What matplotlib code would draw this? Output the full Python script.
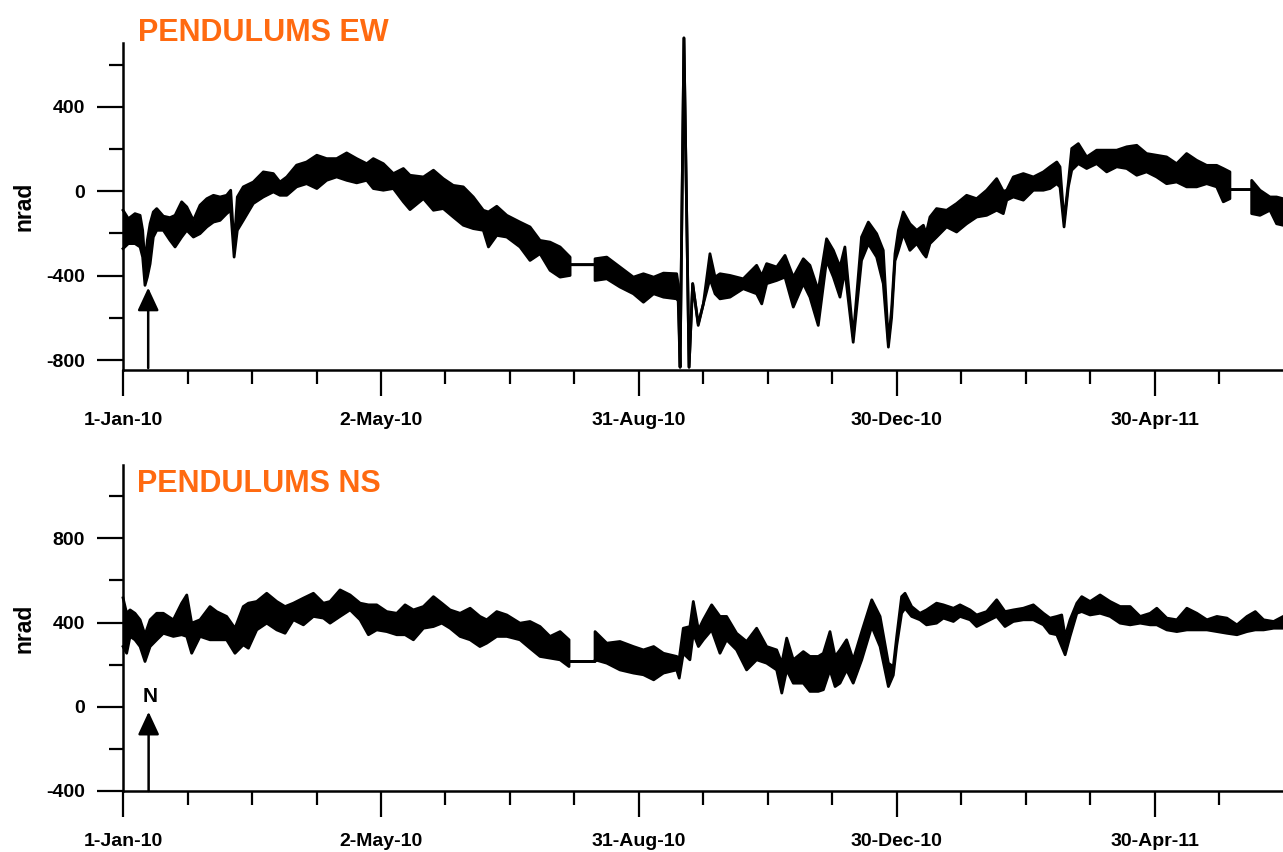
import matplotlib
matplotlib.use('Agg')
import matplotlib.pyplot as plt

plt.rcParams['font.family'] = ['Liberation Sans', 'DejaVu Sans']
plt.rcParams['font.weight'] = 'bold'
plt.rcParams['axes.unicode_minus'] = False

# days since 1-Jan-2010, lower / upper envelope of the record (nrad)
ew_day = [0.0, 2.5, 5.6, 8.0, 9.2, 10.3, 11.4, 12.7, 14.2, 15.8, 18.9, 22.0, 24.4, 27.5, 29.9,
          33.0, 36.1, 39.3, 42.4, 45.5, 48.6, 50.5, 52.1, 53.6, 56.4, 61.1, 65.8, 70.5, 73.6,
          76.8, 81.4, 86.1, 90.9, 95.5, 100.2, 104.9, 109.6, 114.3, 117.4, 122.1, 126.8, 131.5,
          134.6, 140.9, 145.6, 150.2, 154.9, 159.6, 164.3, 169.0, 171.4, 175.3, 180.0, 186.2,
          190.9, 195.6, 200.3, 205.0, 209.7, 209.7, 221.4, 221.4, 226.9, 233.1, 239.4, 244.1,
          248.9, 253.5, 259.7, 260.4, 261.3, 263.1, 265.5, 267.2, 269.8, 272.2, 275.3, 277.7,
          280.0, 284.7, 290.9, 297.2, 299.6, 301.9, 306.6, 310.5, 314.4, 319.1, 322.2, 326.1,
          330.0, 333.2, 336.3, 338.6, 342.5, 346.4, 349.6, 353.5, 356.6, 359.0, 360.5, 362.1,
          363.7, 366.0, 369.1, 372.3, 375.4, 376.7, 378.5, 381.6, 386.3, 391.0, 395.7, 400.4,
          405.1, 409.8, 412.9, 414.5, 417.6, 422.3, 427.0, 431.7, 434.8, 438.0, 439.5, 441.4,
          443.4, 445.0, 448.1, 452.0, 456.7, 461.4, 466.1, 470.8, 475.5, 480.1, 484.8, 489.5,
          494.2, 498.9, 503.6, 508.3, 513.0, 516.1, 519.2, 519.2, 529.4, 529.4, 533.3, 538.0,
          541.1, 544.1]
ew_lo = [-272, -248, -248, -264, -312, -446, -407, -344, -217, -185, -185, -232, -264, -217, -185,
         -217, -201, -169, -146, -138, -106, -90, -312, -185, -138, -58, -27, -3, -19,
         -19, 21, 36, 13, 52, 68, 52, 40, 52, 13, 5, 13, -50,
         -87, -35, -90, -82, -122, -161, -177, -185, -264, -209, -217, -264,
         -328, -296, -375, -407, -399, -348, -348, -423, -415, -454, -486, -526,
         -486, -502, -510, -520, -834, 727, -834, -438, -636, -534, -415, -486,
         -510, -502, -462, -486, -534, -438, -423, -407, -549, -438, -502, -636,
         -328, -407, -502, -375, -716, -328, -249, -312, -438, -739, -600, -330,
         -280, -201, -280, -248, -296, -312, -248, -217, -169, -193, -154, -122,
         -114, -90, -106, -42, -27, -42, 5, 5, 13, 36, 20, -169,
         20, 100, 131, 108, 131, 92, 116, 108, 76, 92, 68, 36,
         44, 21, 21, 36, 21, -50, -35, 8, 8, -106, -114, -90,
         -154, -161]
ew_hi = [-90, -130, -106, -114, -185, -344, -232, -153, -98, -82, -118, -125, -114, -50, -74,
         -138, -66, -35, -19, -27, -19, 5, -260, -27, 21, 44, 92, 84, 44,
         68, 124, 139, 171, 155, 155, 182, 155, 131, 155, 131, 84, 108,
         76, 68, 100, 60, 28, 21, -27, -90, -98, -71, -114, -146,
         -169, -233, -241, -264, -312, -348, -348, -320, -312, -359, -407, -391,
         -407, -388, -391, -440, -834, 727, -834, -438, -628, -534, -296, -407,
         -391, -399, -415, -351, -400, -343, -359, -304, -407, -320, -351, -470,
         -225, -280, -359, -264, -690, -217, -146, -201, -280, -715, -560, -296,
         -185, -98, -154, -185, -161, -200, -122, -82, -90, -58, -19, -35,
         5, 60, 0, 5, 68, 84, 68, 92, 116, 139, 116, -140,
         40, 203, 226, 163, 195, 195, 195, 211, 218, 179, 171, 163,
         131, 179, 147, 123, 123, 108, 92, 8, 8, 52, 5, -27,
         -27, -35]

ns_day = [0.0, 1.7, 3.3, 5.6, 8.0, 10.3, 12.7, 15.8, 18.9, 23.6, 27.5, 29.9, 32.2, 36.1, 40.8,
          43.9, 48.6, 52.5, 56.4, 58.8, 62.7, 67.4, 72.1, 76.0, 79.9, 84.6, 89.3, 94.0, 97.1,
          101.8, 106.5, 111.2, 115.1, 119.0, 123.7, 128.4, 132.3, 136.2, 140.9, 145.6, 149.5,
          153.4, 158.1, 162.8, 167.4, 170.6, 175.3, 180.0, 186.2, 190.9, 195.6, 200.3, 205.0,
          209.2, 209.2, 221.4, 221.4, 226.9, 233.1, 239.4, 244.1, 248.9, 253.5, 259.7, 260.9,
          262.8, 265.9, 267.5, 269.9, 272.2, 276.1, 280.0, 283.1, 287.8, 292.5, 297.2, 301.9,
          306.6, 309.0, 311.3, 314.4, 319.1, 322.2, 326.1, 328.5, 331.6, 334.0, 336.3, 339.4,
          342.5, 346.5, 351.2, 355.1, 359.0, 361.3, 362.9, 365.2, 366.8, 369.9, 373.8, 376.9,
          381.6, 384.8, 389.5, 392.6, 397.3, 400.4, 405.1, 409.8, 413.7, 417.6, 422.3, 427.0,
          431.7, 434.8, 438.0, 440.3, 441.9, 444.2, 447.4, 449.7, 453.6, 458.3, 463.0, 467.7,
          472.4, 477.1, 481.8, 484.9, 489.6, 494.3, 499.0, 503.7, 508.4, 513.1, 517.8, 522.5,
          527.2, 531.1, 535.0, 539.7, 544.2]
ns_lo = [286, 254, 334, 318, 286, 215, 286, 318, 349, 334, 342, 334, 254, 334, 318,
         318, 318, 254, 294, 278, 365, 397, 365, 349, 413, 389, 429, 421, 397,
         429, 460, 413, 342, 365, 357, 342, 342, 318, 373, 381, 397,
         373, 334, 318, 286, 302, 334, 334, 318, 278, 239, 231, 223,
         191, 215, 215, 223, 207, 175, 160, 152, 128, 160, 175, 136,
         254, 223, 349, 286, 318, 365, 254, 318, 270, 175, 223, 207,
         175, 65, 175, 112, 112, 73, 73, 81, 175, 96, 112, 175,
         112, 223, 381, 286, 96, 150, 290, 444, 468, 429, 413, 389,
         397, 421, 405, 429, 413, 381, 405, 429, 381, 405, 413, 413,
         389, 349, 342, 286, 247, 334, 444, 452, 436, 444, 429, 397,
         389, 397, 389, 389, 365, 357, 365, 365, 365, 357, 349, 342,
         357, 365, 365, 373, 373]
ns_hi = [517, 444, 460, 444, 413, 342, 413, 444, 444, 413, 492, 531, 397, 413, 476,
         452, 429, 373, 476, 492, 500, 539, 500, 476, 492, 516, 539, 492, 500,
         555, 531, 492, 484, 484, 452, 444, 484, 460, 476, 523, 492,
         460, 444, 468, 429, 413, 452, 436, 397, 405, 381, 334, 357,
         318, 215, 215, 357, 302, 310, 286, 270, 286, 254, 239, 230,
         373, 381, 500, 365, 413, 484, 429, 429, 349, 310, 373, 286,
         270, 207, 326, 223, 262, 239, 239, 254, 357, 239, 270, 318,
         223, 357, 508, 429, 207, 190, 334, 523, 539, 476, 444, 460,
         492, 484, 468, 484, 460, 436, 452, 508, 452, 460, 468, 484,
         444, 421, 429, 436, 334, 413, 492, 523, 500, 531, 500, 476,
         476, 429, 444, 468, 421, 413, 468, 444, 413, 429, 421, 389,
         429, 452, 413, 405, 429]

tick_days = [0, 121, 242, 363, 484]
tick_labels = ['1-Jan-10', '2-May-10', '31-Aug-10', '30-Dec-10', '30-Apr-11']
minor_days = [30.25 * i for i in range(1, 18) if i % 4 != 0]

title_color = '#ff6a10'

fig = plt.figure(figsize=(12.83, 8.52), dpi=100)
ax1 = fig.add_axes([0.0959, 0.5657, 0.9041, 0.3838])
ax2 = fig.add_axes([0.0959, 0.0716, 0.9041, 0.3826])


def panel(ax, day, lo, hi, ylim, major, minor):
    ax.fill_between(day, lo, hi, color='black', lw=0, clip_on=False)
    ax.plot(day, lo, color='black', lw=2.0, clip_on=False)
    ax.plot(day, hi, color='black', lw=2.0, clip_on=False)
    ax.set_xlim(0, 544.1)
    ax.set_ylim(*ylim)
    ax.set_xticks(tick_days)
    ax.set_xticklabels(tick_labels)
    ax.set_xticks(minor_days, minor=True)
    ax.set_yticks(major)
    ax.set_yticks(minor, minor=True)
    for s in ['top', 'right']:
        ax.spines[s].set_visible(False)
    for s in ['left', 'bottom']:
        ax.spines[s].set_linewidth(1.8)
    ax.tick_params(axis='x', which='major', length=19, width=1.6, labelsize=14, pad=11)
    ax.tick_params(axis='y', which='major', length=18.5, width=1.6, labelsize=14, pad=9)
    ax.tick_params(axis='both', which='minor', length=10, width=1.6)
    ax.text(-0.085, 0.5, 'nrad', rotation=90, transform=ax.transAxes,
            ha='center', va='center', fontsize=16.5, fontweight='bold')


panel(ax1, ew_day, ew_lo, ew_hi, (-847.5, 703), [-800, -400, 0, 400], [-600, -200, 200, 600])
panel(ax2, ns_day, ns_lo, ns_hi, (-400, 1148), [-400, 0, 400, 800], [-200, 200, 600, 1000])

arrow = dict(arrowstyle='-|>,head_length=1.4,head_width=0.65', color='black', lw=1.8,
             shrinkA=0, shrinkB=0)
ax1.annotate('', xy=(11.8, -457), xytext=(11.8, -838), arrowprops=arrow)
ax2.annotate('', xy=(12.0, -24), xytext=(12.0, -400), arrowprops=arrow)
ax2.text(12.6, 24, 'N', ha='center', va='baseline', fontsize=15, fontweight='bold')

fig.text(138 / 1283, 1 - 41 / 852, 'PENDULUMS EW', color=title_color, fontsize=22,
         fontweight='bold', ha='left', va='baseline')
fig.text(137 / 1283, 1 - 492 / 852, 'PENDULUMS NS', color=title_color, fontsize=22,
         fontweight='bold', ha='left', va='baseline')

fig.savefig('out.png', dpi=100)
